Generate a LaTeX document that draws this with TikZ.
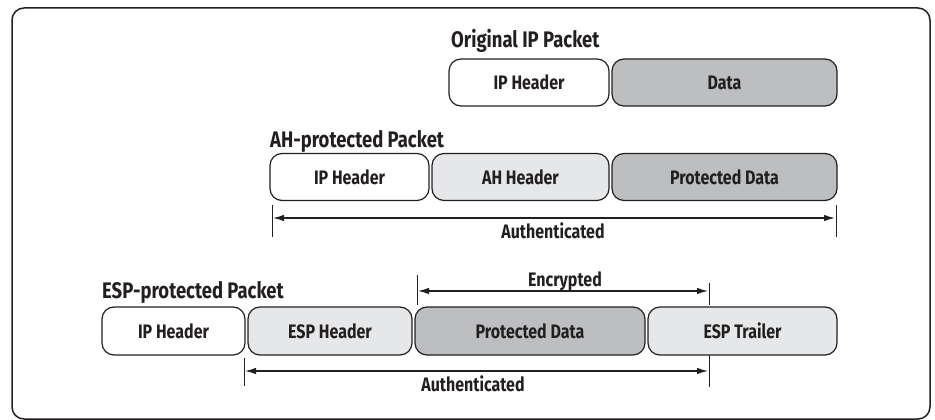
\documentclass[tikz,border=0pt]{standalone}
\usepackage{xcolor}
\usepackage{fontspec}
\setmainfont{Fira Sans}[FakeStretch=0.82]
\usetikzlibrary{positioning,arrows.meta}
\definecolor{inkc}{HTML}{231F20}
\definecolor{lightpkt}{HTML}{E6E7E8}
\definecolor{darkpkt}{HTML}{BCBEC0}

\begin{document}
\begin{tikzpicture}[x=1pt,y=-1pt,
    pkt/.style={draw=inkc, line width=1.2pt, rounded corners=12pt, minimum height=47pt,
        inner sep=0pt, outer sep=0pt, text=inkc, font=\fontsize{19.5}{22}\selectfont\bfseries},
    title/.style={anchor=base west, inner sep=0pt, text=inkc, font=\fontsize{22.5}{25}\selectfont\bfseries},
    lbl/.style={anchor=base, inner sep=0pt, text=inkc, font=\fontsize{19.5}{22}\selectfont\bfseries},
    measure/.style={draw=inkc, line width=1.2pt, {Latex[length=11pt,width=6.5pt]}-{Latex[length=11pt,width=6.5pt]}},
    limit/.style={draw=inkc, line width=1pt}]
    \useasboundingbox (0,0) rectangle (935,420);
    \draw[draw=inkc, line width=1.5pt, rounded corners=12pt] (12,8) rectangle (930,419);

    \node[title] (orig) at (451,48) {Original IP Packet};
    \node[pkt, fill=white, minimum width=160pt] (ip1) at (529,82.5) {IP Header};
    \node[pkt, fill=darkpkt, minimum width=225pt, right=3pt of ip1] (data1) {Data};

    \node[title] (ahp) at (270,147) {AH-protected Packet};
    \node[pkt, fill=white, minimum width=159pt] (ip2) at (349.5,177) {IP Header};
    \node[pkt, fill=lightpkt, minimum width=177pt, right=3pt of ip2] (ah2) {AH Header};
    \node[pkt, fill=darkpkt, minimum width=225pt, right=3pt of ah2] (pd2) {Protected Data};
    \coordinate (ahL) at (272,205);
    \coordinate (ahLb) at (272,237);
    \coordinate (ahR) at (836,205);
    \coordinate (ahRb) at (836,237);
    \coordinate (ahA) at (273,218);
    \coordinate (ahB) at (835,218);
    \draw[limit] (ahL) -- (ahLb);
    \draw[limit] (ahR) -- (ahRb);
    \draw[measure] (ahA) -- (ahB);
    \node[lbl] (auth1) at (553,238) {Authenticated};

    \node[title] (espp) at (102,298) {ESP-protected Packet};
    \node[pkt, fill=white, minimum width=143pt, minimum height=48pt] (ip3) at (173.5,331) {IP Header};
    \node[pkt, fill=lightpkt, minimum width=164pt, minimum height=48pt, right=3pt of ip3] (esp3) {ESP Header};
    \node[pkt, fill=darkpkt, minimum width=230pt, minimum height=48pt, right=3pt of esp3] (pd3) {Protected Data};
    \node[pkt, fill=lightpkt, minimum width=189pt, minimum height=48pt, right=3pt of pd3] (tr3) {ESP Trailer};

    \coordinate (encL) at (417,275);
    \coordinate (encLb) at (417,305);
    \coordinate (encR) at (709,283);
    \coordinate (encRb) at (709,305);
    \coordinate (encA) at (418,291);
    \coordinate (encB) at (708,291);
    \draw[limit] (encL) -- (encLb);
    \draw[limit] (encR) -- (encRb);
    \draw[measure] (encA) -- (encB);
    \node[lbl] (enc) at (565,286) {Encrypted};

    \coordinate (espL) at (244,358);
    \coordinate (espLb) at (244,386);
    \coordinate (espR) at (709,355);
    \coordinate (espRb) at (709,387);
    \coordinate (espA) at (245,371);
    \coordinate (espB) at (708,371);
    \draw[limit] (espL) -- (espLb);
    \draw[limit] (espR) -- (espRb);
    \draw[measure] (espA) -- (espB);
    \node[lbl] (auth2) at (473,391) {Authenticated};
\end{tikzpicture}
\end{document}
